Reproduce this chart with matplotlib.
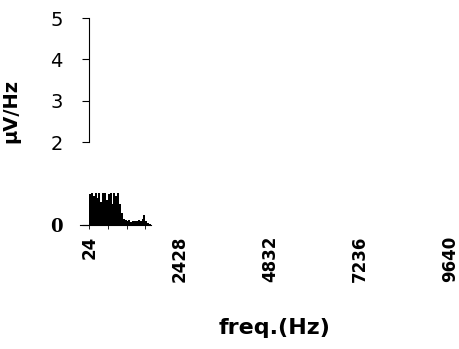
import numpy as np
import matplotlib.pyplot as plt

# spectrum values (uV/Hz), 50 Hz bins starting at 0
bin_width = 50
power = [0.75, 0.78, 0.7, 0.78, 0.65, 0.78, 0.55, 0.78, 0.78, 0.6, 0.75, 0.78,
         0.5, 0.78, 0.7, 0.78, 0.5, 0.3, 0.15, 0.12, 0.1, 0.12, 0.08, 0.1,
         0.09, 0.1, 0.11, 0.1, 0.15, 0.25, 0.1, 0.05, 0.03]
freqs = np.arange(len(power)) * bin_width

xtick_pos = [24, 2428, 4832, 7236, 9640]
xtick_labels = ['24', '2428', '4832', '7236', '9640']
ytick_pos = [0, 2, 3, 4, 5]
ytick_labels = ['0', '2', '3', '4', '5']

fig = plt.figure(figsize=(4.6, 3.49), dpi=100)
ax = fig.add_axes([80 / 460, 1 - 225 / 349, 375 / 460, 207 / 349])

ax.bar(freqs, power, width=bin_width, align='edge', color='black')

ax.set_xlim(-243, 9774)
ax.set_ylim(0, 5)

for s in ['top', 'right']:
    ax.spines[s].set_visible(False)
ax.spines['left'].set_position(('data', 0))
ax.spines['left'].set_bounds(2, 5)
ax.spines['bottom'].set_bounds(-243, 1650)

ax.set_xticks(xtick_pos)
ax.set_xticklabels(xtick_labels, rotation=90, fontsize=12, fontweight='bold')
ax.tick_params(axis='x', which='major', length=0, pad=8)
ax.set_xticks([0, 500, 1000, 1500], minor=True)
ax.tick_params(axis='x', which='minor', length=3, direction='out')

ax.set_yticks(ytick_pos)
ax.set_yticklabels(ytick_labels, fontsize=14)
ax.tick_params(axis='y', length=5, pad=14)
for lab in ax.get_yticklabels():
    if lab.get_text() == '0':
        lab.set_fontfamily('DejaVu Serif')
        lab.set_fontweight('bold')
        lab.set_fontsize(13)

ax.set_xlabel('freq.(Hz)', fontsize=16, fontweight='bold')
ax.xaxis.set_label_coords(0.52, -0.45)
ax.set_ylabel('µV/Hz', fontsize=14, fontweight='bold')
ax.yaxis.set_label_coords(-0.16, 0.55)

fig.savefig('out.png', dpi=100)
